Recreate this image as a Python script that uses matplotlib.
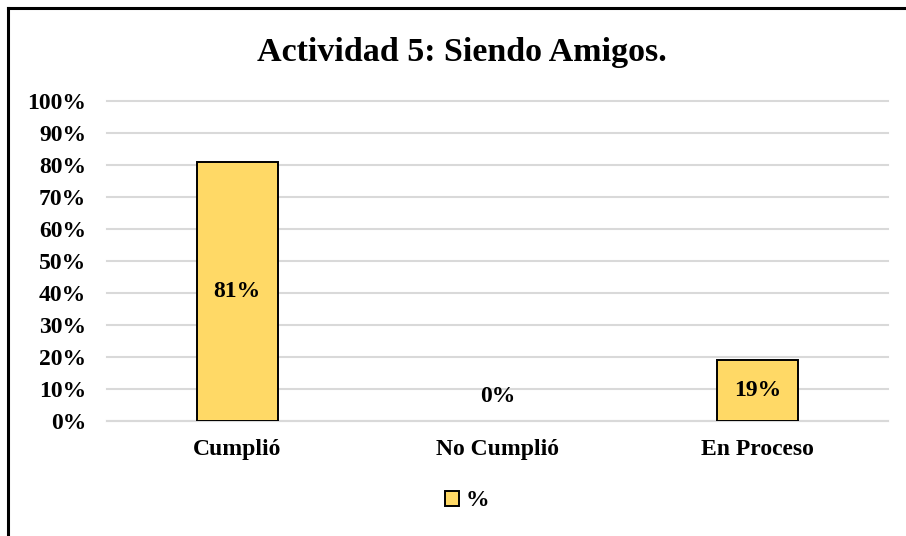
import matplotlib
matplotlib.use("Agg")
import matplotlib.pyplot as plt
from matplotlib.lines import Line2D
from matplotlib.patches import Patch

categories = ["Cumplió", "No Cumplió", "En Proceso"]
values = [0.81, 0.00, 0.19]
labels = ["81%", "0%", "19%"]
yticks = [0, 0.1, 0.2, 0.3, 0.4, 0.5, 0.6, 0.7, 0.8, 0.9, 1.0]
ytick_labels = ["0%", "10%", "20%", "30%", "40%", "50%", "60%", "70%", "80%", "90%", "100%"]
title = "Actividad 5: Siendo Amigos."
series_name = "%"

plt.rcParams['font.family'] = ['Liberation Serif', 'DejaVu Serif']
plt.rcParams['font.weight'] = 'bold'

W, H = 906, 536
fig = plt.figure(figsize=(W / 100, H / 100), dpi=100)
fig.patch.set_facecolor("white")

ax = fig.add_axes([107 / W, 1 - 421 / H, (888 - 107) / W, (421 - 101) / H])
bar_color = "#FFD966"
x = list(range(len(categories)))
edges = ["black" if v > 0 else "none" for v in values]
ax.bar(x, values, width=0.31, color=bar_color, edgecolor=edges, linewidth=1.4, zorder=3)
ax.set_xlim(-0.5, len(categories) - 0.5)
ax.set_ylim(0, 1.0)
ax.set_yticks(yticks)
ax.set_yticklabels(ytick_labels, fontsize=17, fontweight="bold")
ax.set_xticks(x)
ax.set_xticklabels(categories, fontsize=17, fontweight="bold")
ax.tick_params(axis="y", length=0, pad=15)
ax.tick_params(axis="x", length=0, pad=13)
ax.grid(axis="y", color="#D9D9D9", linewidth=1.5, zorder=0)
for gl in ax.get_ygridlines():
    gl.set_clip_on(False)
for s in ["top", "right", "left"]:
    ax.spines[s].set_visible(False)
ax.spines["bottom"].set_color("#D9D9D9")
ax.spines["bottom"].set_linewidth(1.5)

for xi, v, lab in zip(x, values, labels):
    ypos = v / 2 if v > 0 else 0.075
    ax.text(xi, ypos, lab, ha="center", va="center", fontsize=17, fontweight="bold", zorder=4)

fig.text(462 / W, 1 - 53 / H, title, ha="center", va="center", fontsize=24.5, fontweight="bold")

handles = [Patch(facecolor=bar_color, edgecolor="black", linewidth=1.4, label=series_name)]
fig.legend(handles=handles, loc="center", bbox_to_anchor=(467 / W, 1 - 501 / H), frameon=False,
           prop={"size": 17, "weight": "bold"}, handlelength=0.6, handleheight=0.6, handletextpad=0.3)

# outer frame (top and left edges visible)
fig.add_artist(Line2D([8 / W, 1.0], [1 - 8 / H, 1 - 8 / H], transform=fig.transFigure, color="black", linewidth=2.2))
fig.add_artist(Line2D([8 / W, 8 / W], [1 - 8 / H, 0.0], transform=fig.transFigure, color="black", linewidth=2.2))

fig.savefig("out.png", dpi=100)
